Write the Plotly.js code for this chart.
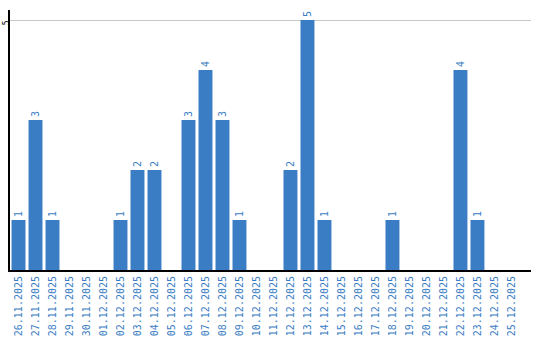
<!DOCTYPE html>
<html>
<head>
<meta charset="utf-8">
<script src="https://cdn.plot.ly/plotly-3.0.1.min.js"></script>
<style>html,body{margin:0;padding:0;background:#fff}#chart{width:540px;height:340px}</style>
</head>
<body>
<div id="chart"></div>
<script>
const dates = ["26.11.2025","27.11.2025","28.11.2025","29.11.2025","30.11.2025","01.12.2025","02.12.2025","03.12.2025","04.12.2025","05.12.2025","06.12.2025","07.12.2025","08.12.2025","09.12.2025","10.12.2025","11.12.2025","12.12.2025","13.12.2025","14.12.2025","15.12.2025","16.12.2025","17.12.2025","18.12.2025","19.12.2025","20.12.2025","21.12.2025","22.12.2025","23.12.2025","24.12.2025","25.12.2025"];
const counts = [1,3,1,0,0,0,1,2,2,0,3,4,3,1,0,0,2,5,1,0,0,0,1,0,0,0,4,1,0,0];
const labels = counts.map(v => v > 0 ? String(v) : "");
const blue = "#3b7dc4";

Plotly.newPlot("chart", [{
  type: "bar",
  x: dates,
  y: counts,
  text: labels,
  textposition: "outside",
  textangle: -90,
  cliponaxis: false,
  textfont: {family: "DejaVu Sans Mono", size: 10, color: blue},
  marker: {color: blue},
  hoverinfo: "none"
}], {
  width: 540, height: 340,
  margin: {l: 10, r: 9, t: 10, b: 70},
  paper_bgcolor: "#fff", plot_bgcolor: "#fff",
  bargap: 0.18,
  showlegend: false,
  xaxis: {
    type: "category",
    range: [-0.5, 30.15],
    showline: true, linecolor: "#000", linewidth: 2,
    showgrid: false, ticks: "",
    tickangle: -90,
    tickfont: {family: "DejaVu Sans Mono", size: 10, color: blue},
    fixedrange: true
  },
  yaxis: {
    range: [0, 5.2],
    tickvals: [5], ticktext: ["5"],
    tickangle: -90,
    ticklabelstandoff: -4,
    ticklabelshift: 4,
    tickfont: {family: "DejaVu Sans Mono", size: 8, color: "#000"},
    showline: true, linecolor: "#000", linewidth: 2,
    showgrid: true, gridcolor: "#c8c8c8", gridwidth: 1,
    zeroline: false, ticks: "",
    fixedrange: true
  }
}, {displayModeBar: false, staticPlot: true});
</script>
</body>
</html>
